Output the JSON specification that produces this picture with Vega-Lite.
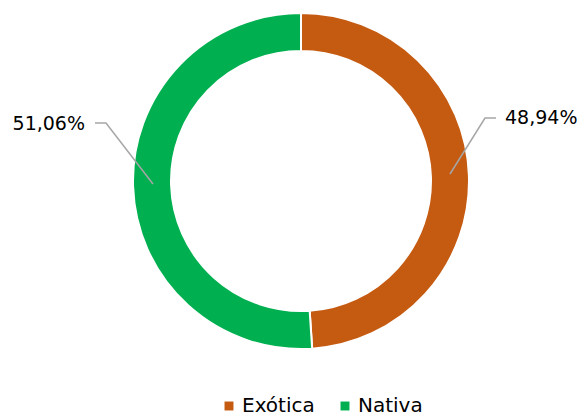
{
  "$schema": "https://vega.github.io/schema/vega-lite/v6.json",
  "width": 558,
  "height": 362,
  "autosize": {"type": "none"},
  "padding": {"left": 22, "top": 0, "right": 0, "bottom": 55},
  "background": "white",
  "config": {"view": {"stroke": null}, "font": "DejaVu Sans"},
  "datasets": {
    "shares": [
      {"origen": "Exótica", "porcentaje": 48.94, "etiqueta": "48,94%"},
      {"origen": "Nativa", "porcentaje": 51.06, "etiqueta": "51,06%"}
    ],
    "leaders": [
      {"origen": "Exótica", "orden": 1, "px": 149, "py": 7},
      {"origen": "Exótica", "orden": 2, "px": 184, "py": 63},
      {"origen": "Exótica", "orden": 3, "px": 195, "py": 63},
      {"origen": "Nativa", "orden": 1, "px": -148, "py": -3},
      {"origen": "Nativa", "orden": 2, "px": -195, "py": 58},
      {"origen": "Nativa", "orden": 3, "px": -206, "py": 58}
    ],
    "labels": [
      {"origen": "Exótica", "etiqueta": "48,94%", "px": 204, "py": 63},
      {"origen": "Nativa", "etiqueta": "51,06%", "px": -216, "py": 57}
    ]
  },
  "layer": [
    {
      "data": {"name": "shares"},
      "mark": {"type": "arc", "outerRadius": 168, "innerRadius": 130, "stroke": "white", "strokeWidth": 2},
      "encoding": {
        "theta": {"field": "porcentaje", "type": "quantitative", "stack": true},
        "color": {
          "field": "origen",
          "type": "nominal",
          "scale": {"domain": ["Exótica", "Nativa"], "range": ["#C55A11", "#00B050"]},
          "legend": {
            "title": null,
            "orient": "none",
            "legendX": 197,
            "legendY": 396,
            "direction": "horizontal",
            "symbolType": "square",
            "symbolSize": 80,
            "symbolStrokeWidth": 0,
            "labelFontSize": 20,
            "labelColor": "#000000",
            "labelFont": "DejaVu Sans",
            "labelOffset": 3,
            "columnPadding": 20
          }
        },
        "order": {"field": "origen"}
      }
    },
    {
      "data": {"name": "leaders"},
      "mark": {"type": "line", "color": "#A6A6A6", "strokeWidth": 1.5},
      "encoding": {
        "x": {"field": "px", "type": "quantitative", "scale": {"domain": [-279, 279]}, "axis": null},
        "y": {"field": "py", "type": "quantitative", "scale": {"domain": [-181, 181]}, "axis": null},
        "detail": {"field": "origen"},
        "order": {"field": "orden"}
      }
    },
    {
      "data": {"name": "labels"},
      "transform": [{"filter": "datum.origen === 'Exótica'"}],
      "mark": {"type": "text", "align": "left", "baseline": "middle", "fontSize": 19, "color": "#000000"},
      "encoding": {
        "x": {"field": "px", "type": "quantitative", "scale": {"domain": [-279, 279]}, "axis": null},
        "y": {"field": "py", "type": "quantitative", "scale": {"domain": [-181, 181]}, "axis": null},
        "text": {"field": "etiqueta"}
      }
    },
    {
      "data": {"name": "labels"},
      "transform": [{"filter": "datum.origen === 'Nativa'"}],
      "mark": {"type": "text", "align": "right", "baseline": "middle", "fontSize": 19, "color": "#000000"},
      "encoding": {
        "x": {"field": "px", "type": "quantitative", "scale": {"domain": [-279, 279]}, "axis": null},
        "y": {"field": "py", "type": "quantitative", "scale": {"domain": [-181, 181]}, "axis": null},
        "text": {"field": "etiqueta"}
      }
    }
  ]
}
